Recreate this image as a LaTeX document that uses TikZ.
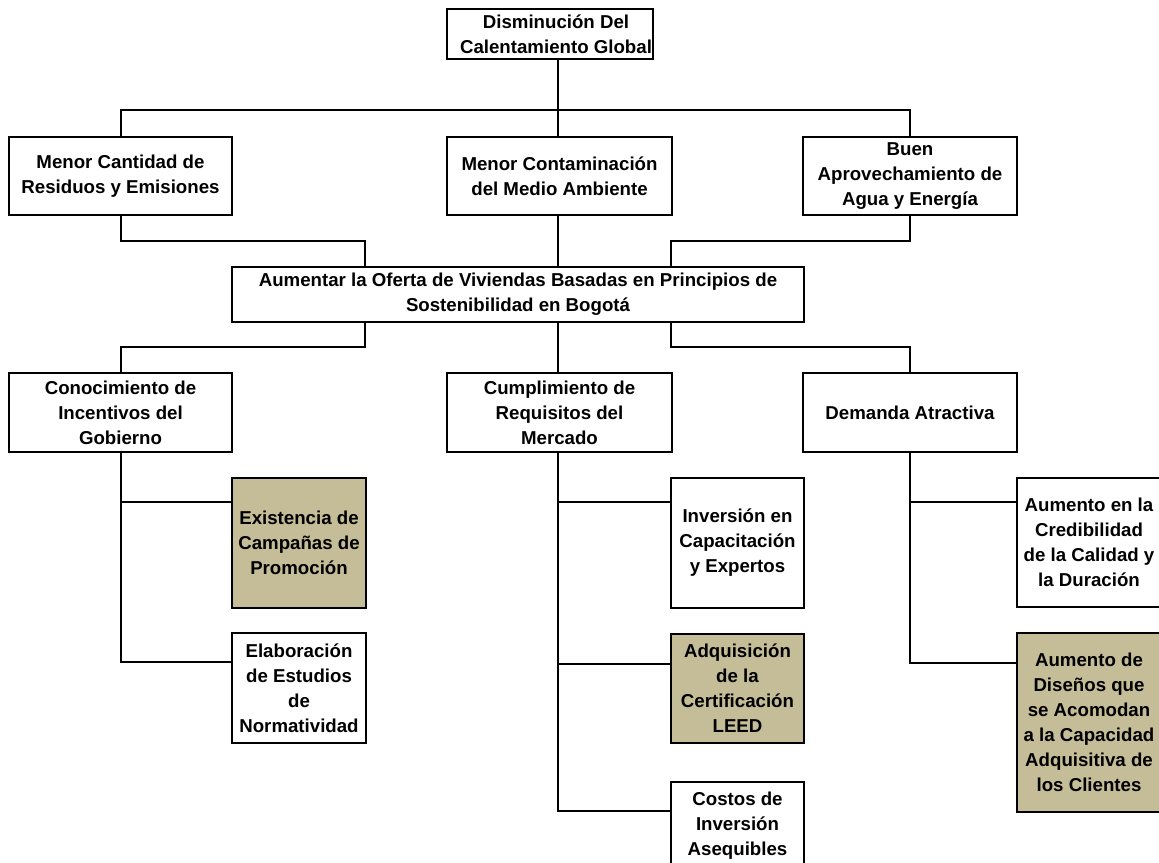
\documentclass[tikz,border=0pt]{standalone}
\usepackage{fontspec}
\setmainfont{Liberation Sans}
\definecolor{tanfill}{RGB}{196,189,151}
\tikzset{
  box/.style={draw=black, line width=1.5pt, fill=white, inner sep=0pt, align=center,
    font=\bfseries\fontsize{14}{18.75}\selectfont},
  tanbox/.style={box, fill=tanfill},
  wh/.style 2 args={minimum width=#1*0.75pt, minimum height=#2*0.75pt},
  txt/.style={inner sep=0pt, align=center, font=\bfseries\fontsize{14}{18.75}\selectfont},
  conn/.style={line width=1.5pt, black}
}
\begin{document}
\begin{tikzpicture}[x=0.75pt, y=-0.75pt]
\useasboundingbox (0,0) rectangle (1159,863);
\clip (0,0) rectangle (1159,863);
\fill[white] (0,0) rectangle (1159,863);

% level 1
\node[box, wh={206}{50}] (top) at (550,34) {};
\node[txt] (toptext) at (556,34) {Disminución Del\\Calentamiento Global};
% level 2
\node[box, wh={223}{78}] (A) at (120.5,176) {Menor Cantidad de\\Residuos y Emisiones};
\node[box, wh={225}{78}] (B) at (559.5,176) {Menor Contaminación\\del Medio Ambiente};
\node[box, wh={214}{78}] (C) at (910,176) {Buen\\Aprovechamiento de\\Agua y Energía};
% central
\node[box, wh={572}{55}] (Cen) at (518,294.5) {Aumentar la Oferta de Viviendas Basadas en Principios de\\Sostenibilidad en Bogotá};
% level 3
\node[box, wh={223}{79}] (D) at (120.5,412.5) {Conocimiento de\\Incentivos del\\Gobierno};
\node[box, wh={225}{79}] (E) at (559.5,412.5) {Cumplimiento de\\Requisitos del\\Mercado};
\node[box, wh={214}{79}] (F) at (910,412.5) {Demanda Atractiva};
% level 4
\node[tanbox, wh={134}{130}] (G) at (299,543) {Existencia de\\Campañas de\\Promoción};
\node[box, wh={134}{110}] (H) at (299,688) {Elaboración\\de Estudios\\de\\Normatividad};
\node[box, wh={133}{130}] (I) at (737.5,543) {Inversión en\\Capacitación\\y Expertos};
\node[tanbox, wh={133}{109}] (J) at (737.5,688.5) {Adquisición\\de la\\Certificación\\LEED};
\node[box, wh={133}{88}] (K) at (737.5,826) {Costos de\\Inversión\\Asequibles};
\node[box, wh={144}{129}] (L) at (1089,542.5) {Aumento en la\\Credibilidad\\de la Calidad y\\la Duración};
\node[tanbox, wh={144}{179}] (M) at (1089,722.5) {Aumento de\\Diseños que\\se Acomodan\\a la Capacidad\\Adquisitiva de\\los Clientes};

% junction coordinates
\coordinate (bus1) at (558,110);
\coordinate (j1) at (365,241);
\coordinate (j2) at (671,241);
\coordinate (j3) at (365,347);
\coordinate (j4) at (671,347);

% connectors top -> level 2
\draw[conn] (top.south -| bus1) -- (bus1);
\draw[conn] (A.north) |- (bus1) -| (C.north);
\draw[conn] (bus1) -- (bus1 |- B.north);
% level 2 -> central
\draw[conn] (A.south) |- (j1) -- (j1 |- Cen.north);
\draw[conn] (B.south -| bus1) -- (bus1 |- Cen.north);
\draw[conn] (C.south) |- (j2) -- (j2 |- Cen.north);
% central -> level 3
\draw[conn] (j3 |- Cen.south) -- (j3) -| (D.north);
\draw[conn] (bus1 |- Cen.south) -- (bus1 |- E.north);
\draw[conn] (j4 |- Cen.south) -- (j4) -| (F.north);
% level 3 -> level 4
\draw[conn] (D.south) |- ([yshift=-22.5pt]H.north west);
\draw[conn] ([yshift=-18.75pt]G.north west) -| (D.south);
\draw[conn] (E.south -| bus1) |- ([yshift=-22.5pt]K.north west);
\draw[conn] ([yshift=-18.75pt]I.north west) -| (E.south -| bus1);
\draw[conn] ([yshift=-23pt]J.north west) -| (E.south -| bus1);
\draw[conn] (F.south) |- ([yshift=-23pt]M.north west);
\draw[conn] ([yshift=-18.75pt]L.north west) -| (F.south);
\end{tikzpicture}
\end{document}
